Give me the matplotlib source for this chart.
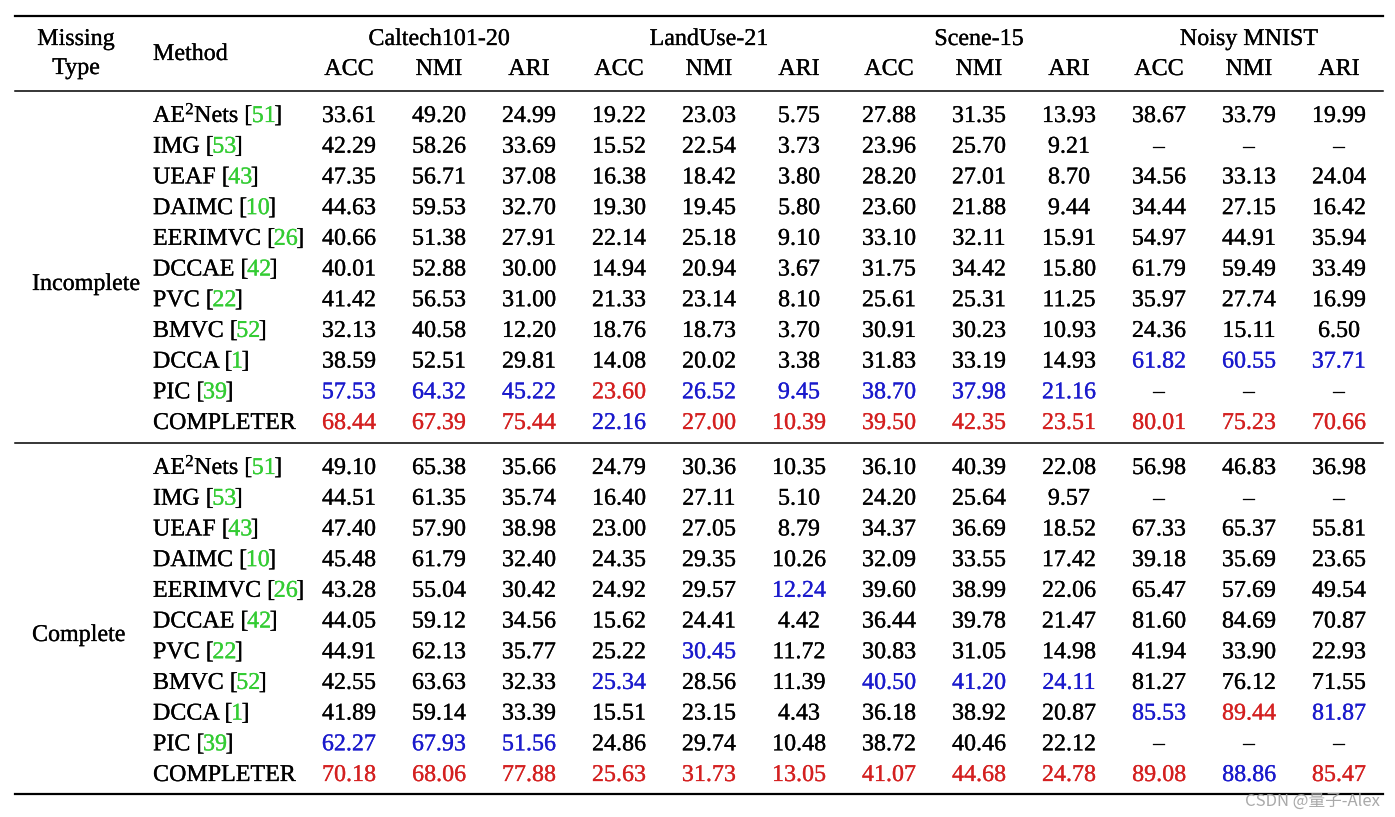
import matplotlib
matplotlib.use("Agg")
import matplotlib.pyplot as plt
import matplotlib.patheffects as pe

plt.rcParams["font.family"] = ["Liberation Serif", "DejaVu Serif"]
plt.rcParams["mathtext.fontset"] = "custom"
plt.rcParams["mathtext.rm"] = "Liberation Serif"
plt.rcParams["mathtext.it"] = "Liberation Serif:italic"

# table content
datasets = ["Caltech101-20", "LandUse-21", "Scene-15", "Noisy MNIST"]
metrics = ["ACC", "NMI", "ARI"]
groups = ["Incomplete", "Complete"]

methods = ["AE$^2$Nets", "IMG", "UEAF", "DAIMC", "EERIMVC", "DCCAE",
           "PVC", "BMVC", "DCCA", "PIC", "COMPLETER"]
cites = ["51", "53", "43", "10", "26", "42", "22", "52", "1", "39", ""]

incomplete = [
    ["33.61", "49.20", "24.99", "19.22", "23.03", "5.75", "27.88", "31.35", "13.93", "38.67", "33.79", "19.99"],
    ["42.29", "58.26", "33.69", "15.52", "22.54", "3.73", "23.96", "25.70", "9.21", "–", "–", "–"],
    ["47.35", "56.71", "37.08", "16.38", "18.42", "3.80", "28.20", "27.01", "8.70", "34.56", "33.13", "24.04"],
    ["44.63", "59.53", "32.70", "19.30", "19.45", "5.80", "23.60", "21.88", "9.44", "34.44", "27.15", "16.42"],
    ["40.66", "51.38", "27.91", "22.14", "25.18", "9.10", "33.10", "32.11", "15.91", "54.97", "44.91", "35.94"],
    ["40.01", "52.88", "30.00", "14.94", "20.94", "3.67", "31.75", "34.42", "15.80", "61.79", "59.49", "33.49"],
    ["41.42", "56.53", "31.00", "21.33", "23.14", "8.10", "25.61", "25.31", "11.25", "35.97", "27.74", "16.99"],
    ["32.13", "40.58", "12.20", "18.76", "18.73", "3.70", "30.91", "30.23", "10.93", "24.36", "15.11", "6.50"],
    ["38.59", "52.51", "29.81", "14.08", "20.02", "3.38", "31.83", "33.19", "14.93", "61.82", "60.55", "37.71"],
    ["57.53", "64.32", "45.22", "23.60", "26.52", "9.45", "38.70", "37.98", "21.16", "–", "–", "–"],
    ["68.44", "67.39", "75.44", "22.16", "27.00", "10.39", "39.50", "42.35", "23.51", "80.01", "75.23", "70.66"],
]
complete = [
    ["49.10", "65.38", "35.66", "24.79", "30.36", "10.35", "36.10", "40.39", "22.08", "56.98", "46.83", "36.98"],
    ["44.51", "61.35", "35.74", "16.40", "27.11", "5.10", "24.20", "25.64", "9.57", "–", "–", "–"],
    ["47.40", "57.90", "38.98", "23.00", "27.05", "8.79", "34.37", "36.69", "18.52", "67.33", "65.37", "55.81"],
    ["45.48", "61.79", "32.40", "24.35", "29.35", "10.26", "32.09", "33.55", "17.42", "39.18", "35.69", "23.65"],
    ["43.28", "55.04", "30.42", "24.92", "29.57", "12.24", "39.60", "38.99", "22.06", "65.47", "57.69", "49.54"],
    ["44.05", "59.12", "34.56", "15.62", "24.41", "4.42", "36.44", "39.78", "21.47", "81.60", "84.69", "70.87"],
    ["44.91", "62.13", "35.77", "25.22", "30.45", "11.72", "30.83", "31.05", "14.98", "41.94", "33.90", "22.93"],
    ["42.55", "63.63", "32.33", "25.34", "28.56", "11.39", "40.50", "41.20", "24.11", "81.27", "76.12", "71.55"],
    ["41.89", "59.14", "33.39", "15.51", "23.15", "4.43", "36.18", "38.92", "20.87", "85.53", "89.44", "81.87"],
    ["62.27", "67.93", "51.56", "24.86", "29.74", "10.48", "38.72", "40.46", "22.12", "–", "–", "–"],
    ["70.18", "68.06", "77.88", "25.63", "31.73", "13.05", "41.07", "44.68", "24.78", "89.08", "88.86", "85.47"],
]
# r = best (red), b = second best (blue)
incomplete_marks = [
    "............", "............", "............", "............",
    "............", "............", "............", "............",
    ".........bbb", "bbbrbbbbb...", "rrrbrrrrrrrr",
]
complete_marks = [
    "............", "............", "............", "............",
    ".....b......", "............", "....b.......", "...b..bbb...",
    ".........brb", "bbb.........", "rrrrrrrrrrbr",
]

RED = "#d42020"
BLUE = "#1a1acc"
GREEN = "#33cc33"
colmap = {".": "black", "r": RED, "b": BLUE}
fs = 17.3


def bold(c):
    # very light stroke so the serif is about as dark as the scanned table
    return [pe.withStroke(linewidth=0.2, foreground=c)]


fig = plt.figure(figsize=(13.95, 8.17), dpi=100)
ax = fig.add_axes([0, 0, 1, 1])
ax.set_xlim(0, 1395)
ax.set_ylim(817, 0)
ax.axis("off")
renderer = fig.canvas.get_renderer()

col_x = [349 + 90 * j for j in range(12)]

# rules
ax.plot([15, 1383], [15.5, 15.5], color="black", lw=1.6)
ax.plot([15, 1383], [91, 91], color="black", lw=1.1)
ax.plot([15, 1383], [443, 443], color="black", lw=1.1)
ax.plot([15, 1383], [794, 794], color="black", lw=1.6)


def txt(x, y, s, c="black", ha="center"):
    return ax.text(x, y, s, ha=ha, va="baseline", fontsize=fs, color=c,
                   path_effects=bold(c))


# header
txt(76, 45, "Missing")
txt(76, 74, "Type")
txt(153, 60, "Method", ha="left")
for i, d in enumerate(datasets):
    txt(col_x[3 * i + 1], 45, d)
for j in range(12):
    txt(col_x[j], 75, metrics[j % 3])


def draw_block(rows, marks, y0, label, label_y):
    txt(32, label_y, label, ha="left")
    for i, (vals, mk) in enumerate(zip(rows, marks)):
        y = y0 + i * 30.7
        # method name with green citation
        x = 153
        name = methods[i] + (" [" if cites[i] else "")
        pieces = [(name, "black")]
        if cites[i]:
            pieces += [(cites[i], GREEN), ("]", "black")]
        for s, c in pieces:
            t = txt(x, y, s, c, ha="left")
            x += t.get_window_extent(renderer).width - 1.5
        for j, v in enumerate(vals):
            txt(col_x[j], y, v, colmap[mk[j]])


draw_block(incomplete, incomplete_marks, 122, groups[0], 290)
draw_block(complete, complete_marks, 474, groups[1], 641)

# watermark
ax.text(1380, 806, "CSDN @量子-Alex", ha="right", va="baseline", fontsize=12,
        color="#a0a0a0", alpha=0.9, family=["Noto Sans CJK SC", "DejaVu Sans"])

fig.savefig("out.png", dpi=100)
